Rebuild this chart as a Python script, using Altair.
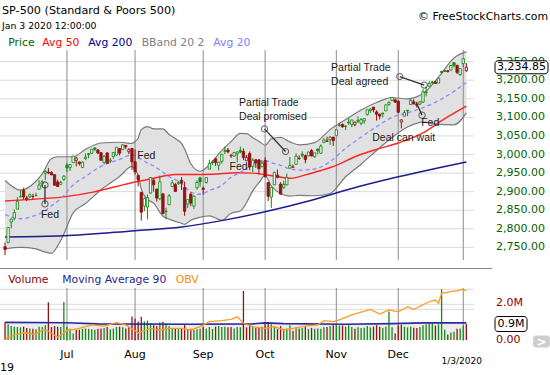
import altair as alt
import pandas as pd

# ---------------- S&P 500 daily candles, 2019-06-03 .. 2020-01-03 ----------------
opens = [2751.53, 2762.64, 2818.09, 2828.51, 2852.87, 2885.83, 2903.27, 2882.73, 2886.24, 2886.82, 2889.75, 2906.71, 2920.55, 2949.60, 2952.71, 2951.42, 2945.78, 2926.07, 2919.66, 2932.94,
         2971.41, 2964.66, 2978.08, 2984.25, 2979.77, 2965.52, 2989.30, 3002.05, 3003.36, 3017.80, 3012.13, 3005.10, 2978.87, 3004.26, 2981.93, 2994.74, 2998.77, 3016.26, 3013.25, 3024.47, 3007.66, 3016.22,
         2980.32, 2943.90, 2898.07, 2861.18, 2858.65, 2896.21, 2930.51, 2907.07, 2880.72, 2894.15, 2846.20, 2864.74, 2913.48, 2919.01, 2922.04, 2930.94, 2911.07, 2866.70, 2893.14, 2861.28, 2910.37, 2937.09,
         2909.01, 2924.67, 2960.60, 2980.33, 2988.43, 2971.01, 2981.41, 3009.08, 3012.21, 2996.41, 2995.67, 3001.50, 3010.36, 3008.42, 2983.50, 3002.43, 2968.35, 2985.73, 2985.47, 2967.07,
         2983.69, 2924.78, 2885.38, 2918.56, 2944.23, 2920.40, 2911.10, 2918.55, 2963.07, 2965.81, 2973.61, 2989.68, 3000.77, 2996.84, 2996.48, 3010.73, 2994.01, 3014.78, 3003.32, 3032.12, 3035.39, 3039.74, 3046.90,
         3050.72, 3078.96, 3080.80, 3075.10, 3087.02, 3081.25, 3080.33, 3089.28, 3084.18, 3090.75, 3107.92, 3117.91, 3127.45, 3114.66, 3108.49, 3111.41, 3117.44, 3134.85, 3145.49, 3147.18,
         3143.85, 3087.41, 3103.50, 3119.21, 3134.62, 3141.86, 3135.36, 3135.75, 3141.23, 3166.65, 3183.63, 3195.40, 3195.21, 3192.32, 3223.33, 3226.05, 3225.45, 3227.20, 3247.23, 3240.09, 3215.18,
         3244.67, 3226.36]
highs = [2763.07, 2804.49, 2827.28, 2852.10, 2884.97, 2904.77, 2910.61, 2888.57, 2895.24, 2894.45, 2897.27, 2930.79, 2931.74, 2958.06, 2964.15, 2954.92, 2946.52, 2932.59, 2929.30, 2943.98,
         2977.93, 2973.21, 2995.84, 2994.03, 2980.76, 2981.90, 3002.98, 3004.04, 3013.92, 3017.80, 3015.02, 3005.26, 2998.28, 3006.02, 2990.71, 3005.90, 3019.59, 3016.31, 3027.98, 3025.61, 3017.19, 3017.40,
         3013.59, 2945.50, 2898.07, 2884.40, 2892.17, 2938.72, 2935.75, 2907.58, 2943.31, 2894.15, 2856.67, 2893.63, 2931.00, 2923.63, 2928.73, 2939.08, 2927.01, 2879.27, 2898.79, 2890.03, 2930.50, 2940.43,
         2914.39, 2938.84, 2985.86, 2985.03, 2989.43, 2979.39, 3000.93, 3020.74, 3017.33, 3002.19, 3006.21, 3007.83, 3021.19, 3016.37, 2999.15, 3007.98, 2989.82, 2987.28, 2987.31, 2983.85,
         2992.53, 2924.78, 2911.13, 2953.74, 2959.75, 2925.47, 2929.32, 2948.46, 2993.28, 2972.84, 3003.28, 2997.54, 3008.29, 3000.00, 3007.33, 3014.57, 3004.78, 3016.07, 3027.39, 3044.08, 3047.87, 3050.10, 3046.90,
         3066.95, 3085.20, 3083.95, 3078.34, 3097.77, 3093.09, 3088.33, 3102.61, 3098.06, 3098.20, 3120.46, 3124.17, 3127.64, 3118.97, 3110.11, 3112.87, 3133.83, 3142.69, 3154.26, 3150.30,
         3144.31, 3094.97, 3119.38, 3119.45, 3150.60, 3148.87, 3142.12, 3143.98, 3176.28, 3182.68, 3197.71, 3198.22, 3198.48, 3205.48, 3225.65, 3227.78, 3226.43, 3240.08, 3247.93, 3240.92, 3231.72,
         3258.14, 3246.15]
lows = [2728.81, 2762.64, 2800.92, 2822.45, 2852.87, 2885.51, 2878.53, 2874.68, 2881.99, 2879.62, 2887.30, 2905.44, 2911.43, 2931.50, 2946.87, 2944.05, 2916.01, 2912.99, 2918.57, 2929.05,
        2952.22, 2955.92, 2977.96, 2967.97, 2970.09, 2963.44, 2984.62, 2989.98, 3001.87, 3008.77, 3001.15, 2984.25, 2973.09, 2975.86, 2976.65, 2988.56, 2996.82, 2997.24, 3012.59, 3014.30, 3000.94, 2958.08,
        2945.23, 2914.11, 2822.12, 2847.42, 2825.71, 2894.47, 2900.15, 2873.14, 2877.05, 2839.64, 2825.51, 2864.74, 2913.48, 2899.60, 2917.91, 2904.51, 2834.97, 2856.00, 2860.59, 2853.05, 2905.67, 2913.32,
        2891.85, 2921.86, 2960.60, 2972.51, 2969.39, 2957.01, 2975.31, 3000.92, 3002.90, 2990.67, 2993.73, 2978.57, 3003.16, 2984.68, 2982.23, 2957.73, 2952.86, 2963.71, 2945.53, 2967.07,
        2938.70, 2874.93, 2855.94, 2918.56, 2935.68, 2892.66, 2907.41, 2917.12, 2963.07, 2962.94, 2973.61, 2985.20, 2991.79, 2976.31, 2995.35, 2995.04, 2991.21, 3000.42, 3001.94, 3032.12, 3034.81, 3025.96, 3023.19,
        3050.72, 3074.87, 3072.15, 3065.89, 3080.23, 3073.58, 3075.82, 3084.73, 3078.80, 3083.26, 3104.60, 3112.06, 3113.47, 3091.41, 3094.55, 3099.26, 3117.44, 3131.00, 3143.41, 3139.34,
        3110.78, 3070.33, 3102.53, 3103.76, 3134.62, 3135.46, 3126.09, 3133.21, 3138.47, 3156.51, 3183.63, 3191.03, 3191.14, 3192.32, 3216.03, 3222.30, 3220.51, 3227.20, 3234.37, 3216.57, 3212.03,
        3235.53, 3222.34]
closes = [2744.45, 2803.27, 2826.15, 2843.49, 2873.34, 2886.73, 2885.72, 2879.84, 2891.64, 2886.98, 2889.67, 2917.75, 2926.46, 2954.18, 2950.46, 2945.35, 2917.38, 2913.78, 2924.92, 2941.76,
          2964.33, 2973.01, 2995.82, 2990.41, 2975.95, 2979.63, 2993.07, 2999.91, 3013.77, 3014.30, 3004.04, 2984.42, 2995.11, 2976.61, 2985.03, 3005.47, 3019.56, 3003.67, 3025.86, 3020.97, 3013.18, 2980.38,
          2953.56, 2932.05, 2844.74, 2881.77, 2883.98, 2938.09, 2918.65, 2882.70, 2926.32, 2840.60, 2847.60, 2888.68, 2923.65, 2900.51, 2924.43, 2922.95, 2847.11, 2878.38, 2869.16, 2887.94, 2924.58, 2926.46,
          2906.27, 2937.78, 2976.00, 2978.71, 2978.43, 2979.39, 3000.93, 3009.57, 3007.39, 2997.96, 3005.70, 3006.73, 3006.79, 2992.07, 2991.78, 2966.60, 2984.87, 2977.62, 2961.79, 2976.74,
          2940.25, 2887.61, 2910.63, 2952.01, 2938.79, 2893.06, 2919.40, 2938.13, 2970.27, 2966.15, 2995.68, 2989.69, 2997.95, 2986.20, 3006.72, 2995.99, 3004.52, 3010.29, 3022.55, 3039.42, 3036.89, 3046.77, 3037.56,
          3066.91, 3078.27, 3074.62, 3076.78, 3085.18, 3093.08, 3087.01, 3091.84, 3094.04, 3096.63, 3120.46, 3122.03, 3120.18, 3108.46, 3103.54, 3110.29, 3133.64, 3140.52, 3153.63, 3140.98,
          3113.87, 3093.20, 3112.76, 3117.43, 3145.91, 3135.96, 3132.52, 3141.63, 3168.57, 3168.80, 3191.45, 3192.52, 3191.14, 3205.37, 3221.22, 3224.01, 3223.38, 3239.91, 3240.02, 3221.29, 3230.78,
          3257.85, 3234.85]
prev_close_before_first = 2752.06

# volume in chart units (millions as shown on the panel's axis)
volumes = [0.95, 0.85, 0.75, 0.72, 0.70, 0.68, 0.72, 0.65, 0.62, 0.60, 0.58, 0.72, 0.70, 0.80, 2.03, 0.70, 0.75, 0.72, 0.70, 2.05,
           0.70, 0.60, 0.35, 0.55, 0.55, 0.60, 0.62, 0.60, 0.58, 0.55, 0.60, 0.62, 0.65, 0.70, 0.58, 0.62, 0.70, 0.72, 0.68, 0.62, 0.68, 1.26,
           1.15, 1.00, 1.25, 1.00, 1.05, 0.90, 0.80, 0.75, 0.95, 0.98, 0.90, 0.75, 0.65, 0.60, 0.60, 0.65, 0.80, 0.55, 0.60, 0.55, 0.58, 0.60,
           0.70, 0.60, 0.70, 0.60, 0.72, 0.75, 0.70, 0.72, 0.68, 0.70, 0.62, 0.70, 0.68, 2.64, 0.68, 0.75, 0.70, 0.65, 0.70, 0.72,
           0.85, 0.95, 0.85, 0.72, 0.60, 0.75, 0.60, 0.62, 0.80, 0.50, 0.68, 0.62, 0.65, 0.72, 0.60, 0.65, 0.60, 0.62, 0.60, 0.68, 0.70, 0.75, 0.80,
           0.80, 0.78, 0.78, 0.72, 0.80, 0.70, 0.60, 0.68, 0.65, 0.66, 0.75, 0.68, 0.72, 0.80, 0.72, 0.65, 0.72, 1.53, 0.68, 0.35,
           0.78, 0.82, 0.72, 0.68, 0.72, 0.66, 0.65, 0.70, 0.80, 0.85, 0.88, 0.90, 0.78, 0.85, 2.73, 0.55, 0.30, 0.40, 0.45, 0.60, 0.62,
           0.78, 0.86]

# indicator lines (trading-day index -> value)
ma20_idx = [0, 5, 10, 12, 15, 17, 19, 22, 26, 31, 37, 41, 42, 43, 44, 46, 48, 51, 53, 55, 57, 58, 60, 63, 66, 70, 73, 76, 78, 80,
            82, 84, 86, 89, 92, 95, 100, 105, 110, 115, 120, 125, 130, 135, 140, 145, 149]
ma20 = [2838, 2827, 2837, 2844, 2862, 2874, 2890, 2918, 2941, 2968, 2987, 2999, 2997, 2994, 2987, 2977, 2969, 2952, 2940, 2932,
        2923, 2914, 2899, 2893, 2903, 2917, 2939, 2952, 2963, 2973, 2980, 2984, 2978, 2971, 2961, 2958, 2961, 2981, 3017, 3047,
        3075, 3100, 3112, 3126, 3145, 3170, 3194]
bb_upper = [2930, 2904, 2928, 2948, 2989, 2994, 2994, 2994, 3014, 3031, 3033, 3030, 3035, 3044, 3067, 3075, 3069, 3069, 3054, 3043,
            3030, 3015, 2975, 2955, 2972, 3011, 3035, 3057, 3056, 3045, 3036, 3025, 3042, 3046, 3034, 3026, 3032, 3067, 3094, 3120,
            3140, 3153, 3150, 3164, 3208, 3260, 3277]
bb_lower = [2746, 2750, 2746, 2740, 2734, 2754, 2786, 2843, 2868, 2905, 2941, 2968, 2959, 2944, 2907, 2879, 2869, 2834, 2826, 2820,
            2815, 2812, 2823, 2831, 2835, 2823, 2842, 2848, 2870, 2902, 2924, 2943, 2915, 2895, 2888, 2890, 2889, 2895, 2940, 2974,
            3011, 3046, 3074, 3087, 3081, 3080, 3112]
ma50_idx = [0, 10, 19, 28, 36, 42, 47, 55, 60, 67, 75, 80, 87, 92, 97, 102, 107, 113, 120, 127, 135, 141, 149]
ma50 = [2875, 2880, 2886, 2898, 2914, 2926, 2934, 2946, 2946, 2947, 2951, 2950, 2942, 2936, 2945, 2957, 2971, 2994, 3014, 3031, 3058, 3091, 3130]
ma200_idx = [0, 19, 42, 57, 70, 84, 99, 114, 127, 149]
ma200 = [2778, 2781, 2795, 2805, 2822, 2846, 2877, 2913, 2940, 2980]
ma90_idx = [0, 20, 30, 60, 80, 84, 90, 110, 125, 135, 149]
ma90 = [0.95, 0.93, 0.87, 0.85, 0.87, 0.92, 0.88, 0.85, 0.88, 0.92, 0.92]
obv_idx = [0, 3, 6, 10, 12, 14, 17, 20, 24, 28, 32, 36, 39, 43, 47, 50, 53, 57, 60, 63, 66, 70, 73, 75, 77, 80, 84, 87, 90, 93,
           97, 101, 103, 106, 108, 112, 118, 121, 124, 127, 130, 132, 137, 139, 140, 141, 144, 146, 148, 149]
obv = [0.05, 0.27, 0.39, 0.32, 0.54, 0.48, 0.15, 0.50, 0.63, 0.81, 0.75, 0.93, 0.81, 0.39, 0.63, 0.54, 0.63, 0.63, 0.54, 0.72,
       0.99, 1.04, 1.11, 1.25, 0.90, 0.72, 0.63, 0.72, 0.54, 0.63, 0.75, 0.81, 1.04, 0.99, 1.08, 1.35, 1.65, 1.40, 1.62, 1.52,
       1.79, 1.65, 2.06, 2.15, 1.98, 2.51, 2.60, 2.64, 2.73, 2.65]

month_idx = [20, 42, 64, 84, 107, 127]
month_labels = ["Jul", "Aug", "Sep", "Oct", "Nov", "Dec"]
year_start_idx = 148
price_ticks = [2750, 2800, 2850, 2900, 2950, 3000, 3050, 3100, 3150, 3200, 3250]
vol_tick_vals = [0.0, 2.0]
vol_tick_labels = ["0.00", "2.0M"]
vol_grid = [1.65, 1.92, 2.73]

ann_labels = ["Fed", "Fed", "Fed", "Partial Trade", "Deal promised", "Partial Trade", "Deal agreed", "Fed", "Deal can wait"]
ann_idx = [11.6, 42.7, 72.5, 75.6, 75.6, 105.3, 105.3, 134.4, 118.6]
ann_price = [2837, 2996, 2967, 3138, 3102, 3234, 3196, 3086, 3044]
seg_i1 = [12.9, 83.8, 127.5, 132.8]
seg_p1 = [2918, 3069, 3210, 3140]
seg_i2 = [12.9, 90.6, 135.4, 134.7]
seg_p2 = [2867, 3008, 3187, 3106]
circ_i = [12.9, 12.9, 83.8, 90.6, 127.5, 135.4, 134.7]
circ_p = [2918, 2867, 3069, 3008, 3210, 3187, 3106]

# ---------------- build tables ----------------
GREEN = "#168a16"
RED = "#931313"
n = len(closes)
prevs = [prev_close_before_first] + closes[:-1]
cols = [GREEN if c >= p else RED for c, p in zip(closes, prevs)]
fills = [col if c < o else "white" for col, c, o in zip(cols, closes, opens)]
df = pd.DataFrame({"i": list(range(n)), "o": opens, "h": highs, "l": lows, "c": closes,
                   "v": volumes, "col": cols, "fillc": fills})
bb = pd.DataFrame({"i": ma20_idx, "m": ma20, "u": bb_upper, "lo": bb_lower})
m50 = pd.DataFrame({"i": ma50_idx, "m": ma50})
m200 = pd.DataFrame({"i": ma200_idx, "m": ma200})
m90 = pd.DataFrame({"i": ma90_idx, "m": ma90})
obvd = pd.DataFrame({"i": obv_idx, "m": obv})
grid_x = pd.DataFrame({"g": month_idx + [year_start_idx]})
months = pd.DataFrame({"g": month_idx, "t": month_labels})
pticks = pd.DataFrame({"p": price_ticks})
ann = pd.DataFrame({"t": ann_labels, "i": ann_idx, "p": ann_price})
segs = pd.DataFrame({"i1": seg_i1, "p1": seg_p1, "i2": seg_i2, "p2": seg_p2})
circs = pd.DataFrame({"i": circ_i, "p": circ_p})
vticks = pd.DataFrame({"v": vol_tick_vals, "t": vol_tick_labels})
vgrid = pd.DataFrame({"v": vol_grid})
last = df.tail(1)

FONT = "DejaVu Sans"
xs = alt.Scale(domain=[-0.01, 149.85], nice=False, zero=False)
ys = alt.Scale(domain=[2716, 3276], range=[260, 52], nice=False, zero=False)
vs = alt.Scale(domain=[0, 2.8], range=[340, 288], nice=False, zero=False)

X = lambda f: alt.X(f, scale=xs, axis=None)
YP = lambda f: alt.Y(f, scale=ys, axis=None)
YV = lambda f: alt.Y(f, scale=vs, axis=None)

# ---------------- price panel ----------------
hgrid_p = alt.Chart(pticks).mark_rule(color="#dadada", strokeWidth=1).encode(
    x=alt.value(0), x2=alt.value(474), y=YP("p:Q"))
plabels = alt.Chart(pticks).mark_text(align="right", baseline="middle", font=FONT, fontSize=11, color="#006400").encode(
    x=alt.value(545), y=YP("p:Q"), text=alt.Text("p:Q", format=",.2f"))
band = alt.Chart(bb).mark_area(color="#e1e1e1", interpolate="monotone").encode(
    x=X("i:Q"), y=YP("u:Q"), y2="lo:Q")
vgrid_p = alt.Chart(grid_x).mark_rule(color="#8c8c8c", strokeWidth=1).encode(
    x=X("g:Q"), y=alt.value(50), y2=alt.value(260))
band_u = alt.Chart(bb).mark_line(color="#7a7a7a", strokeWidth=1.2, interpolate="monotone").encode(
    x=X("i:Q"), y=YP("u:Q"))
band_l = alt.Chart(bb).mark_line(color="#7a7a7a", strokeWidth=1.2, interpolate="monotone").encode(
    x=X("i:Q"), y=YP("lo:Q"))
l200 = alt.Chart(m200).mark_line(color="#1c1c8c", strokeWidth=1.5, interpolate="monotone").encode(
    x=X("i:Q"), y=YP("m:Q"))
l50 = alt.Chart(m50).mark_line(color="#ff2424", strokeWidth=1.4, interpolate="monotone").encode(
    x=X("i:Q"), y=YP("m:Q"))
l20 = alt.Chart(bb).mark_line(color="#8a8aff", strokeWidth=1.3, strokeDash=[4, 3], interpolate="monotone").encode(
    x=X("i:Q"), y=YP("m:Q"))
seg_l = alt.Chart(segs).mark_rule(color="#333333", strokeWidth=1.3).encode(
    x=X("i1:Q"), x2="i2:Q", y=YP("p1:Q"), y2="p2:Q")
wick = alt.Chart(df).mark_rule(strokeWidth=1).encode(
    x=X("i:Q"), y=YP("l:Q"), y2="h:Q", color=alt.Color("col:N", scale=None))
body = alt.Chart(df).mark_bar(size=2.3, strokeWidth=0.9).encode(
    x=X("i:Q"), y=YP("o:Q"), y2="c:Q",
    fill=alt.Fill("fillc:N", scale=None), stroke=alt.Stroke("col:N", scale=None))
circ = alt.Chart(circs).mark_point(shape="circle", size=38, filled=False, color="#333333", strokeWidth=1.1).encode(
    x=X("i:Q"), y=YP("p:Q"))
ann_t = alt.Chart(ann).mark_text(align="left", baseline="middle", font="Liberation Sans", fontSize=10.5, color="#1a1a1a").encode(
    x=X("i:Q"), y=YP("p:Q"), text="t:N")
pbox = alt.Chart(last).mark_rect(fill="white", stroke="black", strokeWidth=1, cornerRadius=3, yOffset=-6.5, y2Offset=6.5).encode(
    x=alt.value(495), x2=alt.value(548), y=YP("c:Q"), y2="c:Q")
ptxt = alt.Chart(last).mark_text(align="center", baseline="middle", font=FONT, fontSize=11, color="black").encode(
    x=alt.value(521.5), y=YP("c:Q"), text=alt.Text("c:Q", format=",.2f"))

price = alt.layer(hgrid_p, plabels, band, vgrid_p, band_u, band_l, l200, l50, l20, seg_l, wick, body, circ, ann_t, pbox, ptxt)

# ---------------- volume panel ----------------
vg = alt.Chart(vgrid).mark_rule(color="#dadada").encode(
    x=alt.value(0), x2=alt.value(474), y=YV("v:Q"))
v90a = alt.Chart(m90).mark_area(color="#ececec").encode(x=X("i:Q"), y=YV("m:Q"))
vgrid_v = alt.Chart(grid_x).mark_rule(color="#8c8c8c", strokeWidth=1).encode(
    x=X("g:Q"), y=alt.value(288), y2=alt.value(341))
vbars = alt.Chart(df).mark_bar(size=1.3).encode(
    x=X("i:Q"), y=YV("v:Q"), color=alt.Color("col:N", scale=None))
v90l = alt.Chart(m90).mark_line(color="#2a2a9c", strokeWidth=1.6).encode(x=X("i:Q"), y=YV("m:Q"))
obvl = alt.Chart(obvd).mark_line(color="#ff9a1f", strokeWidth=1.3).encode(x=X("i:Q"), y=YV("m:Q"))
vtk = alt.Chart(vticks).mark_text(align="left", baseline="middle", font=FONT, fontSize=11, color="#8b0000").encode(
    x=alt.value(496), y=YV("v:Q"), text="t:N")
vbox = alt.Chart(last).mark_rect(fill="white", stroke="black", strokeWidth=1, cornerRadius=3, yOffset=-7.5, y2Offset=7.5).encode(
    x=alt.value(495), x2=alt.value(527), y=YV("v:Q"), y2="v:Q")
vtxt = alt.Chart(last).transform_calculate(lbl="format(datum.v, '.1f') + 'M'").mark_text(
    align="center", baseline="middle", font=FONT, fontSize=11, color="black").encode(
    x=alt.value(511), y=YV("v:Q"), text="lbl:N")

volume = alt.layer(vg, v90a, vgrid_v, vbars, v90l, obvl, vtk, vbox, vtxt)

# month labels along the bottom
mlabels = alt.Chart(months).mark_text(align="center", baseline="middle", font=FONT, fontSize=11, color="black").encode(
    x=X("g:Q"), y=alt.value(355), text="t:N")


# ---------------- chrome (titles, legends) ----------------
def label(text, x, y, color="black", size=10.8, align="left", font=FONT, weight="normal"):
    return alt.Chart(pd.DataFrame({"t": [text]})).mark_text(
        align=align, baseline="middle", fontSize=size, font=font, color=color, fontWeight=weight).encode(
        text="t:N", x=alt.value(x), y=alt.value(y))


sep = alt.Chart(pd.DataFrame({"a": [0]})).mark_rule(color="#8a8a8a").encode(
    x=alt.value(0), x2=alt.value(492), y=alt.value(268.5))
btn = alt.Chart(pd.DataFrame({"a": [0]})).mark_rect(fill="#cdcdcd", cornerRadius=3).encode(
    x=alt.value(533), x2=alt.value(550), y=alt.value(335.5), y2=alt.value(347.5))

chrome = [
    sep, btn, mlabels,
    label(">", 541.5, 341.5, "white", 12, "center", weight="bold"),
    label("SP-500 (Standard & Poors 500)", 2, 10.5, "black", 11.2),
    label("Jan 3 2020 12:00:00", 2, 25.5, "black", 9.3),
    label("\u00a9 FreeStockCharts.com", 548, 16.7, "black", 10.9, "right"),
    label("Price", 8.3, 43.3, "#006400"),
    label("Avg 50", 42.3, 43.3, "#ff0000"),
    label("Avg 200", 88.3, 43.3, "#00008b"),
    label("BBand 20 2", 141.7, 43.3, "#7f7f7f"),
    label("Avg 20", 213.3, 43.3, "#8080ff"),
    label("Volume", 8.3, 280, "#8b0000"),
    label("Moving Average 90", 62.3, 280, "#1f1f8f"),
    label("OBV", 175.7, 280, "#ff8c00"),
    label("19", 0, 368, "black", 11),
    label("1/3/2020", 461.7, 361, "black", 9, "center"),
]

chart = alt.layer(price, volume, *chrome).resolve_scale(y="independent").properties(
    width=474, height=341,
    autosize=alt.AutoSizeParams(type="none"),
    padding={"left": 0, "top": 0, "right": 76, "bottom": 34},
    background="white",
).configure_view(stroke=None)

chart.save("out.html", embed_options={"renderer": "svg", "actions": False})
